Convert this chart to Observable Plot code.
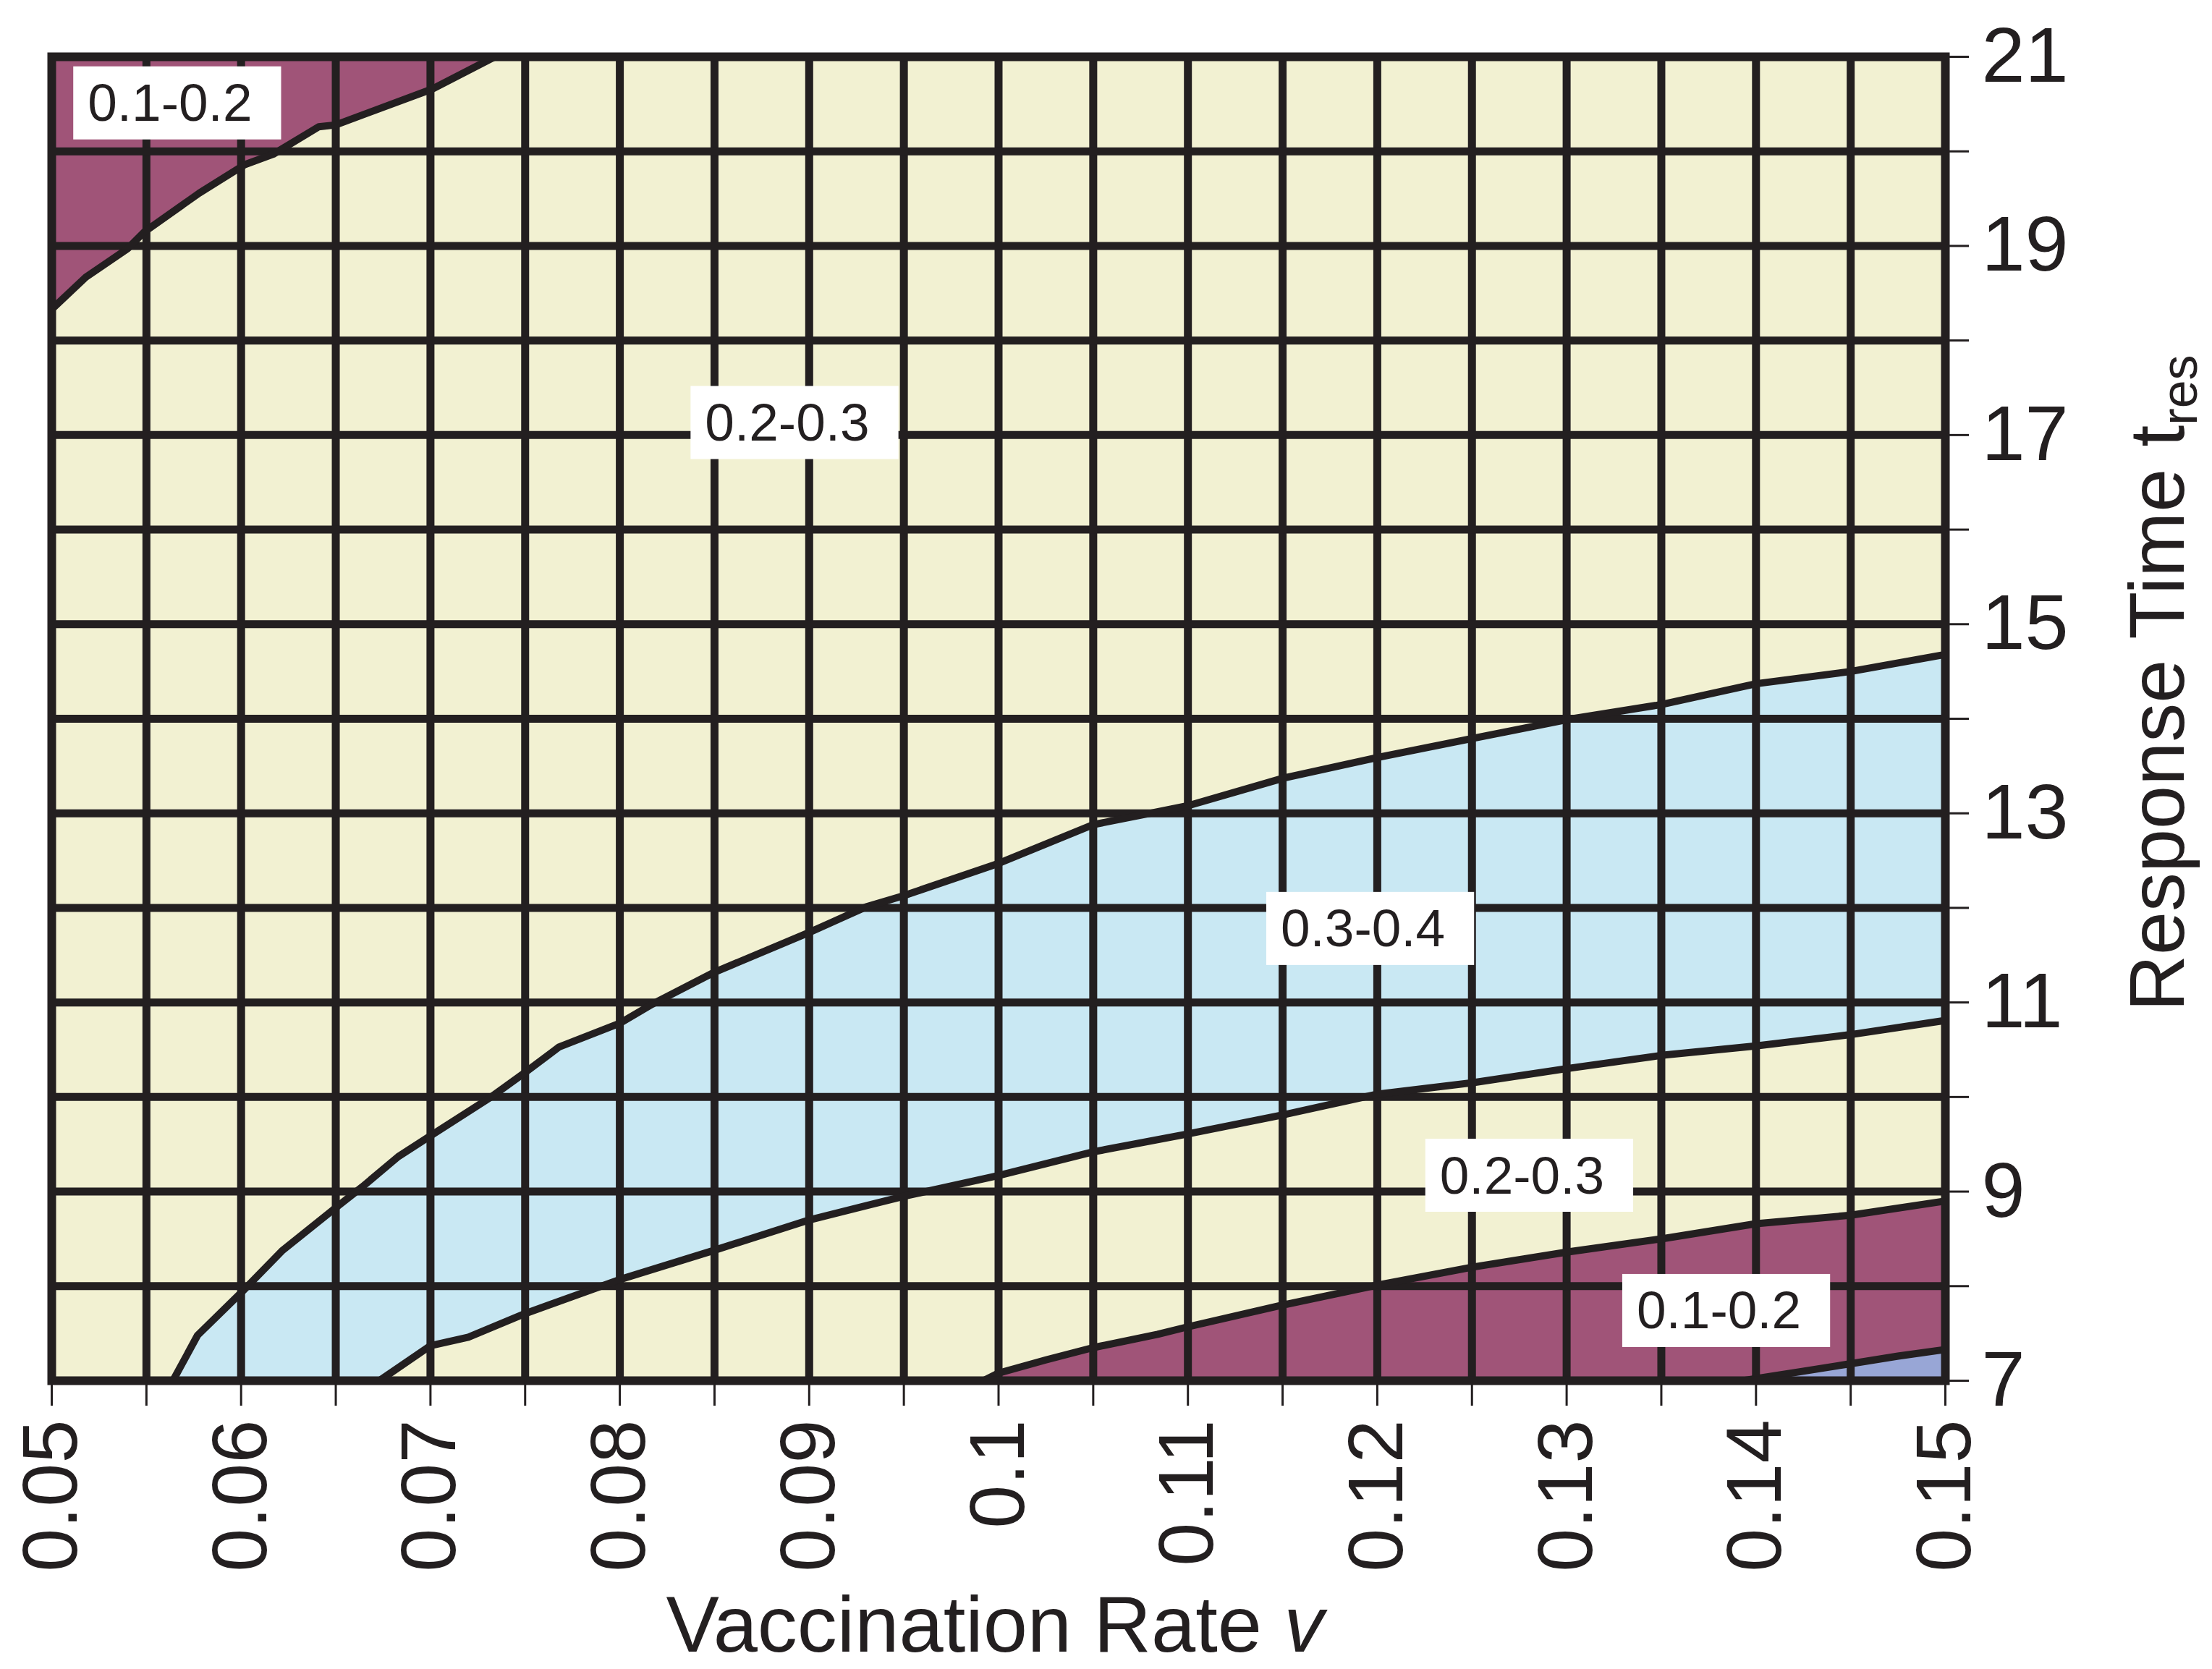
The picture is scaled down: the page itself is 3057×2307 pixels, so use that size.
<!DOCTYPE html>
<html>
<head>
<meta charset="utf-8">
<script src="https://cdn.jsdelivr.net/npm/d3@7"></script>
<script src="https://cdn.jsdelivr.net/npm/@observablehq/plot@0.6"></script>
<style>
html, body { margin: 0; padding: 0; background: #ffffff; }
#chart svg { display: block; }
</style>
</head>
<body>
<div id="chart"></div>
<script>
// ---- tick positions and labels ----
const xMinorTicks = [0.05, 0.055, 0.06, 0.065, 0.07, 0.075, 0.08, 0.085, 0.09, 0.095, 0.1,
                     0.105, 0.11, 0.115, 0.12, 0.125, 0.13, 0.135, 0.14, 0.145, 0.15];
const xLabelTicks = [0.05, 0.06, 0.07, 0.08, 0.09, 0.1, 0.11, 0.12, 0.13, 0.14, 0.15];
const xTickLabels = ["0.05", "0.06", "0.07", "0.08", "0.09", "0.1", "0.11", "0.12", "0.13", "0.14", "0.15"];
const yMinorTicks = [7, 8, 9, 10, 11, 12, 13, 14, 15, 16, 17, 18, 19, 20, 21];
const yLabelTicks = [7, 9, 11, 13, 15, 17, 19, 21];
const yTickLabels = ["7", "9", "11", "13", "15", "17", "19", "21"];

// ---- contour boundaries: [vaccination rate v, response time t] ----
// A: upper-left boundary between 0.1-0.2 and 0.2-0.3
const boundaryA = [[0.05, 18.33], [0.0518, 18.67], [0.054, 18.97], [0.0549, 19.15], [0.0578, 19.56],
                   [0.0602, 19.86], [0.0617, 19.97], [0.0641, 20.26], [0.065, 20.28], [0.0701, 20.66], [0.0734, 21]];
// B: upper boundary of the 0.3-0.4 band
const boundaryB = [[0.0564, 7.0], [0.0577, 7.48], [0.06, 7.93], [0.0622, 8.38], [0.065, 8.83], [0.0664, 9.05],
                   [0.0683, 9.37], [0.07, 9.59], [0.0732, 10.0], [0.075, 10.26], [0.0768, 10.53], [0.08, 10.78],
                   [0.0817, 10.98], [0.085, 11.32], [0.09, 11.74], [0.093, 12.01], [0.095, 12.13], [0.1, 12.47],
                   [0.105, 12.88], [0.11, 13.08], [0.115, 13.37], [0.12, 13.59], [0.125, 13.79], [0.13, 13.99],
                   [0.135, 14.15], [0.14, 14.37], [0.145, 14.5], [0.15, 14.68]];
// C: lower boundary of the 0.3-0.4 band
const boundaryC = [[0.0673, 7.0], [0.07, 7.37], [0.072, 7.46], [0.075, 7.71], [0.08, 8.07], [0.085, 8.38],
                   [0.09, 8.7], [0.093, 8.85], [0.095, 8.95], [0.1, 9.17], [0.105, 9.42], [0.11, 9.61],
                   [0.115, 9.81], [0.12, 10.03], [0.125, 10.15], [0.13, 10.3], [0.135, 10.44], [0.14, 10.54],
                   [0.145, 10.66], [0.15, 10.81]];
// D: upper boundary of the lower 0.1-0.2 band
const boundaryD = [[0.0992, 7.0], [0.1, 7.08], [0.1025, 7.22], [0.105, 7.35], [0.1084, 7.49], [0.11, 7.57],
                   [0.115, 7.8], [0.12, 8.01], [0.125, 8.2], [0.13, 8.36], [0.135, 8.5], [0.14, 8.66],
                   [0.145, 8.75], [0.15, 8.9]];
// E: boundary of the lowest band
const boundaryE = [[0.1393, 7.0], [0.1425, 7.1], [0.145, 7.18], [0.1475, 7.26], [0.15, 7.33]];

// ---- contour labels ----
const labelText = ["0.1-0.2", "0.2-0.3", "0.3-0.4", "0.2-0.3", "0.1-0.2"];
const labelV = [0.0519, 0.0845, 0.1149, 0.1233, 0.1337];
const labelT = [20.5, 17.12, 11.77, 9.16, 7.73];

// ---- build tables ----
const toRows = arr => arr.map(([v, t]) => ({v, t}));
const rowsA = toRows(boundaryA), rowsB = toRows(boundaryB), rowsC = toRows(boundaryC),
      rowsD = toRows(boundaryD), rowsE = toRows(boundaryE);
const labels = labelText.map((text, i) => ({text, v: labelV[i], t: labelT[i]}));

const ink = "#231F20";
const cream = "#F2F1D2";
const blue = "#C9E8F3";
const purple = "#A05478";
const lavender = "#98A6D6";
const font = "'Liberation Sans', Arial, Helvetica, sans-serif";

const xLabelOf = d => {
  const i = xLabelTicks.findIndex(x => Math.abs(x - d) < 1e-9);
  return i >= 0 ? xTickLabels[i] : "";
};
const yLabelOf = d => {
  const i = yLabelTicks.indexOf(d);
  return i >= 0 ? yTickLabels[i] : "";
};

const lineOpts = {x: "v", y: "t", stroke: ink, strokeWidth: 10, strokeLinejoin: "round", strokeLinecap: "butt"};

const chart = Plot.plot({
  width: 3057,
  height: 2307,
  marginLeft: 71,
  marginRight: 369,
  marginTop: 78,
  marginBottom: 399,
  style: {fontFamily: font, background: "#ffffff", color: ink},
  x: {domain: [0.05, 0.15], nice: false},
  y: {domain: [7, 21], nice: false},
  marks: [
    Plot.frame({fill: cream, stroke: null}),
    Plot.areaY(rowsA, {x: "v", y1: "t", y2: 21, fill: purple}),
    Plot.areaY(rowsB, {x: "v", y1: 7, y2: "t", fill: blue}),
    Plot.areaY(rowsC, {x: "v", y1: 7, y2: "t", fill: cream}),
    Plot.areaY(rowsD, {x: "v", y1: 7, y2: "t", fill: purple}),
    Plot.areaY(rowsE, {x: "v", y1: 7, y2: "t", fill: lavender}),
    Plot.ruleX(xMinorTicks, {stroke: ink, strokeWidth: 11}),
    Plot.ruleY(yMinorTicks, {stroke: ink, strokeWidth: 11}),
    Plot.line(rowsA, lineOpts),
    Plot.line(rowsB, lineOpts),
    Plot.line(rowsC, lineOpts),
    Plot.line(rowsD, lineOpts),
    Plot.line(rowsE, lineOpts),
    Plot.frame({stroke: ink, strokeWidth: 12}),
    Plot.axisX(xMinorTicks, {
      anchor: "bottom", label: null, tickSize: 35, tickPadding: 19, tickRotate: -90,
      tickFormat: xLabelOf, fontSize: 108, stroke: ink, fill: ink, strokeWidth: 3
    }),
    Plot.axisY(yMinorTicks, {
      anchor: "right", label: null, tickSize: 32, tickPadding: 18,
      tickFormat: yLabelOf, fontSize: 108, stroke: ink, fill: ink, strokeWidth: 3
    }),
    Plot.text(labels, {x: "v", y: "t", text: "text", textAnchor: "start", fontSize: 73, fill: ink})
  ]
});

document.getElementById("chart").appendChild(chart);

// white boxes behind the contour labels
d3.select(chart).selectAll('g[aria-label="text"] text').each(function () {
  const bb = this.getBBox();
  const cy = bb.y + bb.height / 2;
  const r = document.createElementNS("http://www.w3.org/2000/svg", "rect");
  r.setAttribute("x", bb.x - 20);
  r.setAttribute("width", bb.width + 60);
  r.setAttribute("y", cy - 50);
  r.setAttribute("height", 101);
  r.setAttribute("fill", "#ffffff");
  r.setAttribute("stroke", "none");
  const tr = this.getAttribute("transform");
  if (tr) r.setAttribute("transform", tr);
  this.parentNode.insertBefore(r, this);
});

// axis titles
const svg = d3.select(chart);
const xt = svg.append("text")
  .attr("x", 1375).attr("y", 2283)
  .attr("text-anchor", "middle")
  .attr("font-family", font).attr("font-size", 110).attr("fill", ink);
xt.append("tspan").text("Vaccination Rate ");
xt.append("tspan").attr("font-style", "italic").text("v");

const yt = svg.append("text")
  .attr("transform", "translate(3018,1398) rotate(-90)")
  .attr("text-anchor", "start")
  .attr("font-family", font).attr("font-size", 108).attr("fill", ink);
yt.append("tspan").text("Response Time t");
yt.append("tspan").attr("font-size", 70).attr("dy", 18).text("res");
</script>
</body>
</html>
